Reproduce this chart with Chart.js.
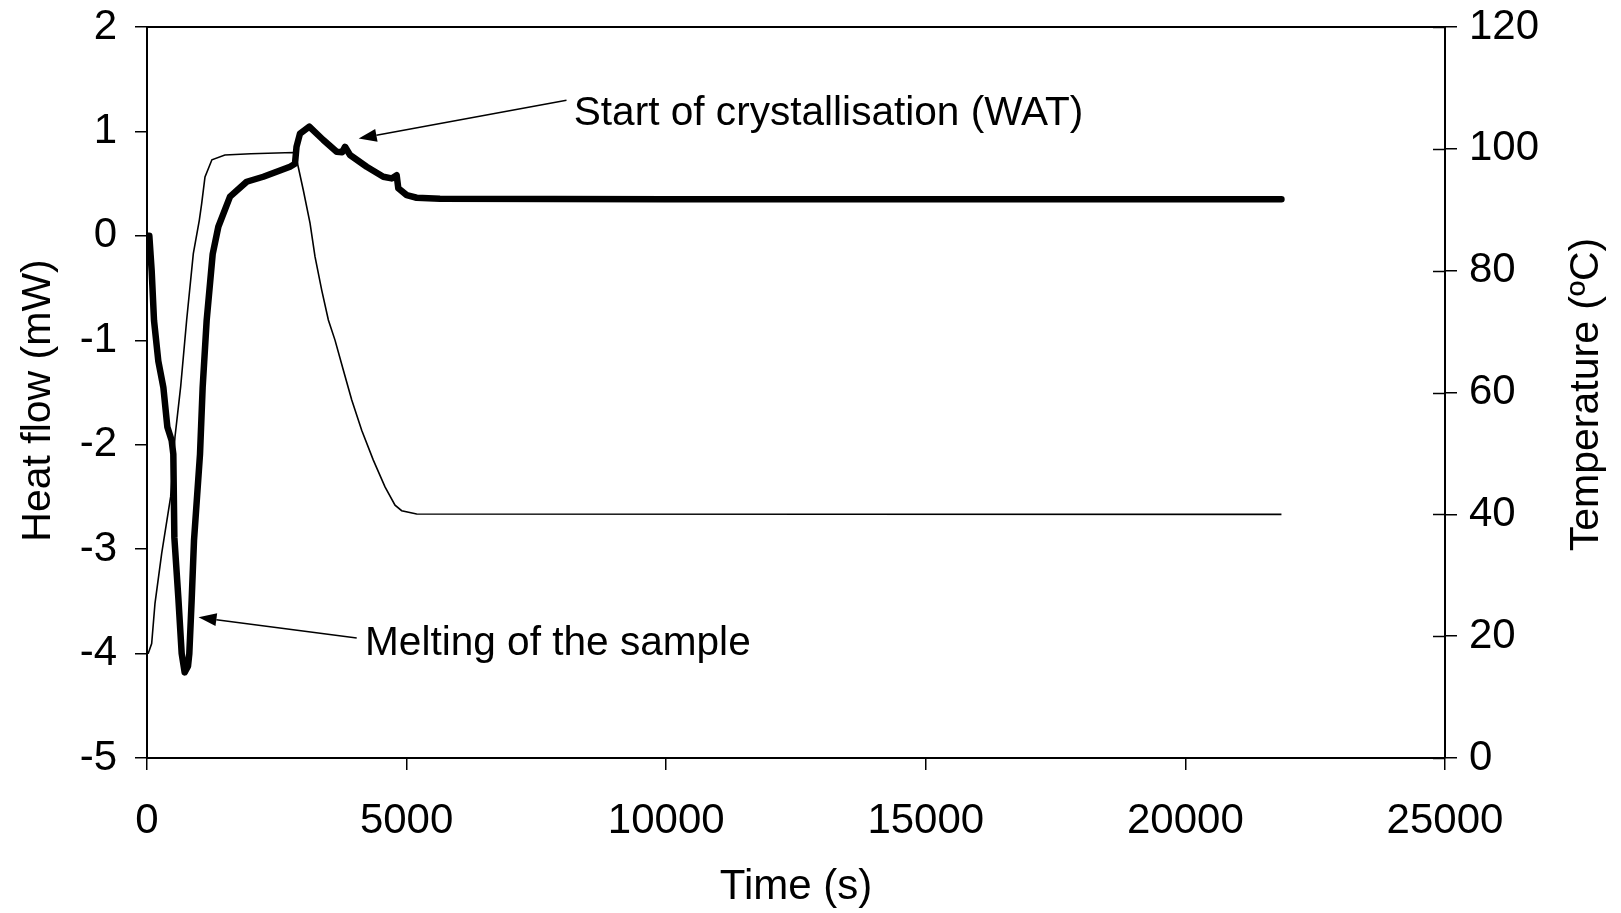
<!DOCTYPE html>
<html><head><meta charset="utf-8">
<script src="https://cdn.jsdelivr.net/npm/chart.js@4.4.1/dist/chart.umd.min.js"></script>
<style>html,body{margin:0;padding:0;background:#fff;overflow:hidden}#wrap{width:1621px;height:913px}</style>
</head><body><div id="wrap"><canvas id="c" width="1621" height="913"></canvas></div>
<script>
// ---- data ----
const timeTicks = [0, 5000, 10000, 15000, 20000, 25000];
const heatFlowTicks = [-5, -4, -3, -2, -1, 0, 1, 2];
const temperatureTicks = [0, 20, 40, 60, 80, 100, 120];

const heatFlowTime = [0, 45, 90, 135, 218, 315, 392, 475, 507, 527, 603, 668, 725, 790, 815, 860, 905, 1021, 1072, 1149, 1265, 1374, 1599, 1920, 2240, 2754, 2850, 2880, 2947, 3126, 3396, 3653, 3760, 3814, 3910, 4231, 4551, 4712, 4809, 4840, 5002, 5194, 5643, 10000, 15000, 21850];
const heatFlowValue = [0, 0, -0.335, -0.81, -1.2, -1.45, -1.83, -1.96, -2.09, -2.89, -3.46, -4.0, -4.18, -4.12, -4.0, -3.49, -2.92, -2.09, -1.45, -0.81, -0.175, 0.087, 0.375, 0.518, 0.566, 0.662, 0.69, 0.853, 0.98, 1.045, 0.918, 0.806, 0.8, 0.853, 0.774, 0.662, 0.566, 0.55, 0.58, 0.455, 0.39, 0.365, 0.355, 0.35, 0.35, 0.35];

const temperatureTime = [0, 25, 90, 154, 283, 456, 539, 649, 764, 892, 1008, 1053, 1117, 1250, 1500, 2000, 2820, 2883, 3011, 3140, 3236, 3365, 3493, 3621, 3781, 3942, 4135, 4359, 4584, 4777, 4905, 5194, 21850];
const temperatureValue = [17.1, 17.2, 18.8, 25.4, 33.6, 42.9, 52.7, 61, 71.9, 82.8, 88.3, 91, 95.4, 98.2, 99.0, 99.2, 99.4, 98.2, 93.2, 87.8, 82.3, 76.8, 71.9, 68.6, 63.7, 58.8, 53.8, 48.9, 44.5, 41.5, 40.6, 40.05, 40.0];

const annotationTexts = ['Start of crystallisation (WAT)', 'Melting of the sample'];

// ---- chart ----
const FONT = '"Liberation Sans", Arial, sans-serif';
const FS = 42;
const FS_NOTE = 40.6;

const annotations = [
  {text: annotationTexts[0], tx: 8220, ty: 1.17, fx: 8080, fy: 1.298, hx: 4077, hy: 0.932},
  {text: annotationTexts[1], tx: 4199, ty: -3.91, fx: 4039, fy: -3.851, hx: 992, hy: -3.653}
];

function ticksFrom(arr) { return s => { s.ticks = arr.map(v => ({value: v})); }; }
function fixV(w) { return s => { s.width = w; s.paddingTop = 0; s.paddingBottom = 0; }; }
function fixH(h) { return s => { s.height = h; s.paddingLeft = 0; s.paddingRight = 0; }; }

const extras = {
  id: 'extras',
  afterDraw(chart) {
    const ctx = chart.ctx, a = chart.chartArea;
    const x = chart.scales.x, yH = chart.scales.yHF, yT = chart.scales.yT;
    ctx.save();
    ctx.strokeStyle = '#000';
    ctx.lineWidth = 2;
    ctx.beginPath(); ctx.moveTo(a.left - 1, a.top); ctx.lineTo(a.right + 1, a.top); ctx.stroke();
    // inner half of right-axis ticks
    ctx.lineWidth = 1.5;
    temperatureTicks.forEach(v => {
      const py = Math.round(yT.getPixelForValue(v)) + 0.5;
      ctx.beginPath(); ctx.moveTo(a.right - 12, py); ctx.lineTo(a.right, py); ctx.stroke();
    });
    // titles
    ctx.fillStyle = '#000';
    ctx.font = FS + 'px ' + FONT;
    ctx.textAlign = 'center'; ctx.textBaseline = 'middle';
    ctx.fillText('Time (s)', (a.left + a.right) / 2, 887);
    ctx.font = '41px ' + FONT;
    ctx.save(); ctx.translate(39, (a.top + a.bottom) / 2 + 8); ctx.rotate(-Math.PI / 2);
    ctx.fillText('Heat flow (mW)', 0, 0); ctx.restore();
    ctx.save(); ctx.translate(1587, (a.top + a.bottom) / 2 + 2); ctx.rotate(-Math.PI / 2);
    ctx.fillText('Temperature (\u00baC)', 0, 0); ctx.restore();
    // annotations
    ctx.font = FS_NOTE + 'px ' + FONT;
    annotations.forEach(an => {
      const fx = x.getPixelForValue(an.fx), fy = yH.getPixelForValue(an.fy);
      const hx = x.getPixelForValue(an.hx), hy = yH.getPixelForValue(an.hy);
      const ang = Math.atan2(hy - fy, hx - fx);
      const L = 18, W = 6.5;
      const bx = hx - L * Math.cos(ang), by = hy - L * Math.sin(ang);
      ctx.lineWidth = 1.5;
      ctx.beginPath(); ctx.moveTo(fx, fy); ctx.lineTo(bx, by); ctx.stroke();
      ctx.beginPath();
      ctx.moveTo(hx, hy);
      ctx.lineTo(bx + W * Math.sin(ang), by - W * Math.cos(ang));
      ctx.lineTo(bx - W * Math.sin(ang), by + W * Math.cos(ang));
      ctx.closePath(); ctx.fill();
      ctx.textAlign = 'left'; ctx.textBaseline = 'middle';
      ctx.fillText(an.text, x.getPixelForValue(an.tx), yH.getPixelForValue(an.ty));
    });
    ctx.restore();
  }
};

const tickFont = {family: FONT, size: FS};
const plain = v => String(v);
new Chart(document.getElementById('c'), {
  type: 'line',
  data: {
    datasets: [
      {label: 'Heat flow', data: heatFlowTime.map((t, i) => ({x: t, y: heatFlowValue[i]})), yAxisID: 'yHF',
       borderColor: '#000', borderWidth: 6.5, pointRadius: 0, tension: 0, order: 0, borderJoinStyle: 'round', borderCapStyle: 'round'},
      {label: 'Temperature', data: temperatureTime.map((t, i) => ({x: t, y: temperatureValue[i]})), yAxisID: 'yT',
       borderColor: '#000', borderWidth: 1.6, pointRadius: 0, tension: 0, order: 1}
    ]
  },
  options: {
    responsive: false, animation: false, devicePixelRatio: 1,
    layout: {padding: {top: 27, left: 0, right: 0, bottom: 0}},
    plugins: {legend: {display: false}, tooltip: {enabled: false}},
    scales: {
      x: {type: 'linear', min: 0, max: 25000, afterBuildTicks: ticksFrom(timeTicks),
          afterFit: fixH(155),
          grid: {drawOnChartArea: false, drawTicks: true, tickLength: 12, color: '#000', lineWidth: 1.5},
          border: {display: true, color: '#000', width: 2},
          ticks: {color: '#000', font: tickFont, padding: 26, maxRotation: 0, autoSkip: false, callback: plain}},
      yHF: {type: 'linear', position: 'left', min: -5, max: 2, afterBuildTicks: ticksFrom(heatFlowTicks),
          afterFit: fixV(147),
          grid: {drawOnChartArea: false, drawTicks: true, tickLength: 12, color: '#000', lineWidth: 1.5},
          border: {display: true, color: '#000', width: 2},
          ticks: {color: '#000', font: tickFont, padding: 18, autoSkip: false, callback: plain}},
      yT: {type: 'linear', position: 'right', min: 0, max: 120, afterBuildTicks: ticksFrom(temperatureTicks),
          afterFit: fixV(176),
          grid: {drawOnChartArea: false, drawTicks: true, tickLength: 12, color: '#000', lineWidth: 1.5},
          border: {display: true, color: '#000', width: 2},
          ticks: {color: '#000', font: tickFont, padding: 12, autoSkip: false, callback: plain}}
    }
  },
  plugins: [extras]
});
</script></body></html>
